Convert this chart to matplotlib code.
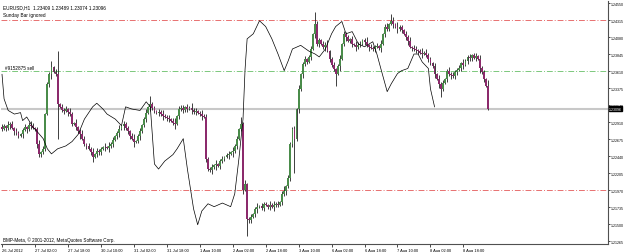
import matplotlib.pyplot as plt
import numpy as np

# EURUSD H1 closes, one per bar (26 Jul 2012 10:00 -> 9 Aug 2012 06:00, Sunday bars skipped)
closes = [
    1.2281, 1.2285, 1.2283, 1.2287, 1.2288, 1.2283, 1.2278, 1.2276, 1.2272, 1.2274,
    1.2280, 1.2284, 1.2282, 1.2287, 1.2286, 1.2283, 1.2281, 1.2261, 1.2247, 1.2250,
    1.2254, 1.2302, 1.2344, 1.2357, 1.2367, 1.2360, 1.2357, 1.2316, 1.2312, 1.2308,
    1.2306, 1.2309, 1.2305, 1.2302, 1.2288, 1.2290, 1.2284, 1.2279, 1.2274, 1.2268,
    1.2261, 1.2258, 1.2254, 1.2249, 1.2243, 1.2247, 1.2251, 1.2249, 1.2254, 1.2256,
    1.2257, 1.2255, 1.2258, 1.2261, 1.2266, 1.2271, 1.2276, 1.2281, 1.2285, 1.2288,
    1.2283, 1.2278, 1.2272, 1.2268, 1.2263, 1.2265, 1.2271, 1.2278, 1.2287, 1.2295,
    1.2304, 1.2312, 1.2316, 1.2310, 1.2306, 1.2304, 1.2305, 1.2302, 1.2300, 1.2298,
    1.2296, 1.2295, 1.2293, 1.2290, 1.2288, 1.2299, 1.2309, 1.2311, 1.2307, 1.2312,
    1.2309, 1.2311, 1.2308, 1.2305, 1.2306, 1.2303, 1.2302, 1.2300, 1.2298, 1.2240,
    1.2226, 1.2224, 1.2229, 1.2231, 1.2233, 1.2230, 1.2237, 1.2240, 1.2243, 1.2245,
    1.2247, 1.2249, 1.2251, 1.2258, 1.2268, 1.2281, 1.2288, 1.2197, 1.2205, 1.2157,
    1.2155, 1.2160, 1.2164, 1.2171, 1.2173, 1.2175, 1.2172, 1.2178, 1.2176, 1.2174,
    1.2177, 1.2174, 1.2176, 1.2178, 1.2177, 1.2181, 1.2192, 1.2196, 1.2202, 1.2213,
    1.2261, 1.2281, 1.2268, 1.2309, 1.2336, 1.2357, 1.2371, 1.2378, 1.2374, 1.2381,
    1.2392, 1.2413, 1.2427, 1.2399, 1.2404, 1.2399, 1.2395, 1.2398, 1.2389, 1.2378,
    1.2370, 1.2364, 1.2357, 1.2368, 1.2378, 1.2399, 1.2413, 1.2408, 1.2403, 1.2406,
    1.2399, 1.2397, 1.2395, 1.2398, 1.2399, 1.2404, 1.2402, 1.2398, 1.2395, 1.2393,
    1.2392, 1.2395, 1.2396, 1.2394, 1.2399, 1.2413, 1.2423, 1.2420, 1.2427, 1.2431,
    1.2426, 1.2423, 1.2420, 1.2422, 1.2418, 1.2413, 1.2408, 1.2403, 1.2395, 1.2394,
    1.2392, 1.2390, 1.2389, 1.2387, 1.2385, 1.2387, 1.2384, 1.2378, 1.2372, 1.2368,
    1.2357, 1.2350, 1.2344, 1.2337, 1.2345, 1.2351, 1.2361, 1.2358, 1.2356, 1.2354,
    1.2360, 1.2363, 1.2365, 1.2372, 1.2370, 1.2376, 1.2381, 1.2379, 1.2383, 1.2380,
    1.2382, 1.2378, 1.2365, 1.2360, 1.2351, 1.23409, 1.23096,
]
first_open = 1.2284

# wick lengths in pips, one digit per bar
wick_up_str = ("3214231321 2313421231 3122413213 2314213124 2132413221 3142312413 "
               "2213412312 3142213241 2312413221 3142312413 2231412312 3142213241 "
               "2312413221 3142312413 2231412312 3142213241 2312413221 3142312413 "
               "2231412312 3142213241 2312413221 3142312413 2231412312 3142213")
wick_dn_str = ("2132413221 3142312413 2213412312 3142213241 2312413221 3142312413 "
               "2231412312 3142213241 2312413221 3142312413 2132413221 3142312413 "
               "2213412312 3142213241 2312413221 3142312413 2231412312 3142213241 "
               "2312413221 3142312413 2231412312 3142213241 2312413221 3142312")

# long shadows that stand out on the chart
high_spikes = {24: 1.2376, 27: 1.2389, 72: 1.2327, 116: 1.2298, 152: 1.2443,
               189: 1.2441, 236: 1.23489}
low_spikes = {18: 1.2243, 27: 1.2268, 44: 1.2236, 119: 1.2134, 142: 1.2221,
              162: 1.2341, 213: 1.2326, 236: 1.23074}

# second instrument drawn as a thin line: (bar index, price)
overlay_idx = [0, 1, 3, 6, 9, 10, 12, 15, 17, 20, 22, 24, 27, 31, 34, 37, 40, 44, 46, 49,
               51, 55, 58, 60, 63, 67, 70, 72, 74, 76, 79, 83, 85, 88, 90, 93, 95, 97, 100,
               103, 107, 111, 113, 115, 117, 118, 119, 122, 125, 128, 131, 134, 137, 139,
               141, 145, 149, 152, 154, 157, 160, 162, 165, 167, 170, 173, 176, 180, 182,
               184, 187, 189, 192, 194, 197, 200, 202, 204, 207, 208, 210]
overlay_val = [1.2357, 1.2323, 1.2307, 1.2302, 1.2304, 1.2293, 1.2298, 1.2284, 1.2278,
               1.2268, 1.2254, 1.2247, 1.2254, 1.2258, 1.2264, 1.2274, 1.2295, 1.2312,
               1.2317, 1.2309, 1.2302, 1.2295, 1.2286, 1.2312, 1.2309, 1.2307, 1.2319,
               1.2312, 1.2233, 1.2226, 1.2237, 1.2246, 1.2254, 1.2268, 1.2226, 1.2171,
               1.2149, 1.2168, 1.2178, 1.2174, 1.2179, 1.2174, 1.2192, 1.2240, 1.2295,
               1.2364, 1.2406, 1.2413, 1.2431, 1.2423, 1.2406, 1.2385, 1.2362, 1.2376,
               1.2392, 1.2397, 1.2389, 1.2385, 1.2381, 1.2392, 1.2413, 1.2423, 1.2430,
               1.2413, 1.2416, 1.2399, 1.2395, 1.2402, 1.2385, 1.2364, 1.2333, 1.2344,
               1.2358, 1.2362, 1.2365, 1.2385, 1.2385, 1.2374, 1.2365, 1.2337, 1.2312]

# price levels of the order lines and the bid line
red_levels = [1.2432, 1.2197]
sell_level = 1.2361
bid = 1.23096

price_ticks = [1.21265, 1.21500, 1.21735, 1.21970, 1.22205, 1.22440, 1.22675, 1.22910,
               1.23140, 1.23375, 1.23610, 1.23845, 1.24080, 1.24315, 1.24550]
time_tick_idx = [0, 16, 32, 48, 64, 80, 96, 112, 128, 144, 160, 176, 192, 208, 224]
time_tick_labels = ["26 Jul 2012", "27 Jul 02:00", "27 Jul 18:00", "30 Jul 10:00",
                    "31 Jul 02:00", "31 Jul 18:00", "1 Aug 10:00", "2 Aug 02:00",
                    "2 Aug 18:00", "3 Aug 10:00", "6 Aug 02:00", "6 Aug 18:00",
                    "7 Aug 10:00", "8 Aug 02:00", "8 Aug 18:00"]

plt.rcParams['font.family'] = ['Liberation Sans', 'DejaVu Sans']

n = len(closes)
idx = np.arange(n)
c = np.array(closes)
o = np.concatenate([[first_open], c[:-1]])
up_digits = [int(ch) for ch in wick_up_str.replace(" ", "")]
dn_digits = [int(ch) for ch in wick_dn_str.replace(" ", "")]
up = np.array((up_digits + [2] * n)[:n])
dn = np.array((dn_digits + [2] * n)[:n])
hi = np.maximum(o, c) + up * 0.00015
lo = np.minimum(o, c) - dn * 0.00015
for k, v in high_spikes.items():
    hi[k] = v
for k, v in low_spikes.items():
    lo[k] = v

fig = plt.figure(figsize=(6.25, 2.53), dpi=100)
ax = fig.add_axes([1 / 625, 8 / 253, 607 / 625, 243 / 253])
ax.set_xlim(-0.49, 294.2)
ax.set_ylim(1.21224, 1.24583)

# order / level lines
for lv in red_levels:
    ax.axhline(lv, color='#e87070', lw=0.7, ls=(0, (6, 2, 1, 2)), zorder=1)
ax.axhline(sell_level, color='#7cc87c', lw=0.7, ls=(0, (6, 2, 1, 2)), zorder=1)
ax.axhline(bid, color='#c8c8c8', lw=1.5, zorder=1)

# candles
bull = c >= o
ax.vlines(idx, lo, hi, color='#202020', lw=0.6, zorder=2)
body_h = np.maximum(np.abs(c - o), 0.00004)
ax.bar(idx[bull], body_h[bull], bottom=np.minimum(o, c)[bull], width=0.9,
       color='#4a8c4a', lw=0, zorder=3)
ax.bar(idx[~bull], body_h[~bull], bottom=np.minimum(o, c)[~bull], width=0.9,
       color='#8c2a6c', lw=0, zorder=3)

ax.plot(overlay_idx, overlay_val, color='black', lw=0.5, zorder=4)

# axes styling like the terminal
for s in ['top', 'left']:
    ax.spines[s].set_visible(False)
ax.spines['right'].set_color('#505050')
ax.spines['bottom'].set_color('#505050')
ax.spines['right'].set_linewidth(0.8)
ax.spines['bottom'].set_linewidth(0.8)

ax.yaxis.tick_right()
ax.set_yticks(price_ticks)
ax.set_yticklabels([f"{p:.5f}" for p in price_ticks])
ax.tick_params(axis='y', direction='out', length=1.5, width=0.5, pad=0.6, labelsize=2.6,
               colors='black')
ax.set_xticks(time_tick_idx)
ax.set_xticklabels(time_tick_labels, ha='left')
ax.tick_params(axis='x', direction='out', length=2, width=0.5, pad=1, labelsize=2.9,
               colors='black')

ax.text(1.0015, bid, "1.23096", transform=ax.get_yaxis_transform(), fontsize=2.6,
        color='white', va='center', ha='left',
        bbox=dict(boxstyle='square,pad=0.1', fc='black', ec='black'))

ax.text(0.004, 0.985, "EURUSD,H1  1.23409 1.23489 1.23074 1.23096", transform=ax.transAxes,
        fontsize=3.4, va='top', ha='left')
ax.text(0.004, 0.955, "Sunday Bar ignored", transform=ax.transAxes,
        fontsize=3.4, va='top', ha='left')
ax.text(1.5, sell_level + 0.0002, "#9152875 sell", fontsize=3.3, va='bottom', ha='left')
ax.text(0.004, 0.01, "BMP-Meta, \u00a9 2001-2012, MetaQuotes Software Corp.",
        transform=ax.transAxes, fontsize=3.3, va='bottom', ha='left')

fig.savefig('out.png', dpi=100)
